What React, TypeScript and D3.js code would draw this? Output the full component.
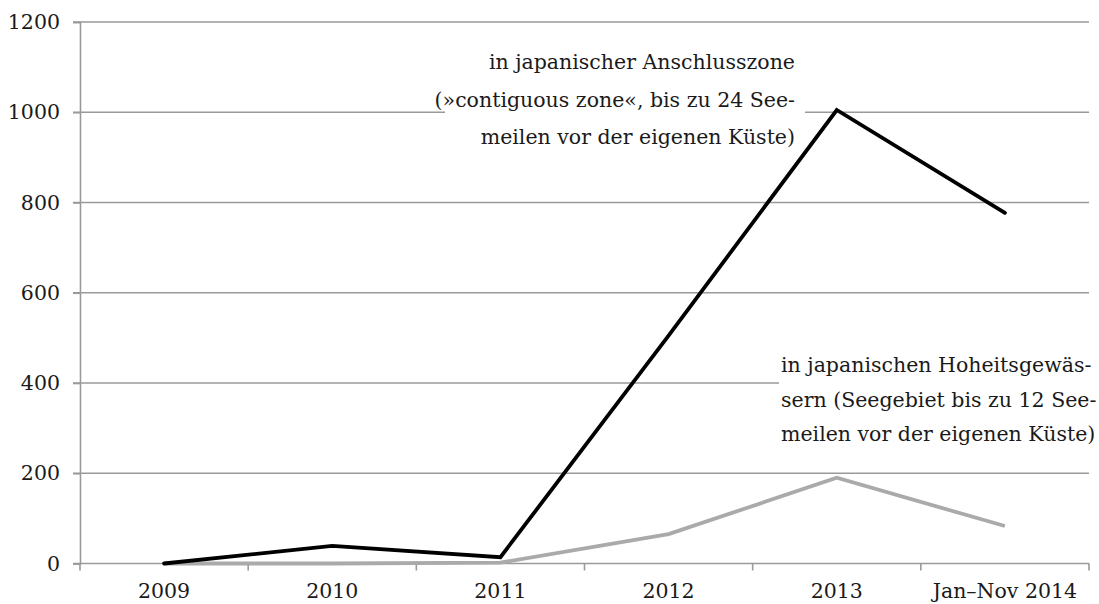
import * as d3 from 'd3';
import React, { useEffect, useRef } from 'react';

// Categories and series values
const categories = ['2009', '2010', '2011', '2012', '2013', 'Jan–Nov 2014'];
const contiguousZone = [0, 39, 14, 505, 1005, 777];
const territorialWaters = [0, 0, 2, 65, 190, 83];
const yTicks = [0, 200, 400, 600, 800, 1000, 1200];

const noteContiguous = [
    'in japanischer Anschlusszone',
    '(»contiguous zone«, bis zu 24 See-',
    'meilen vor der eigenen Küste)'
];
const noteTerritorial = [
    'in japanischen Hoheitsgewäs-',
    'sern (Seegebiet bis zu 12 See-',
    'meilen vor der eigenen Küste)'
];

const App = () => {
    const svgRef = useRef<SVGSVGElement>(null);

    useEffect(() => {
        const width = 1099;
        const height = 604;
        const margin = { top: 22, right: 10, bottom: 40.5, left: 80 };
        const font = '"DejaVu Serif", serif';
        const fontSize = '20.5px';
        const textColor = '#1a1a1a';

        const xScale = d3
            .scaleBand()
            .domain(categories)
            .range([margin.left, width - margin.right]);

        const yScale = d3
            .scaleLinear()
            .domain([0, 1200])
            .range([height - margin.bottom, margin.top]);

        const svg = d3.select(svgRef.current);
        svg.selectAll('*').remove();
        svg.attr('width', width).attr('height', height);

        const x0 = margin.left;
        const x1 = width - margin.right;
        const yBase = yScale(0);

        // Gridlines
        svg.append('g')
            .selectAll('line')
            .data(yTicks.filter(d => d > 0))
            .enter()
            .append('line')
            .attr('x1', x0 - 7)
            .attr('x2', x1)
            .attr('y1', d => yScale(d))
            .attr('y2', d => yScale(d))
            .attr('stroke', '#9a9a9a')
            .attr('stroke-width', 1.6);

        // Y axis
        const yAxis = svg.append('g')
            .attr('transform', `translate(${x0},0)`)
            .call(d3.axisLeft(yScale).tickValues(yTicks).tickFormat(d3.format('d')).tickSize(7).tickPadding(13));
        yAxis.select('.domain').attr('stroke', '#9a9a9a').attr('stroke-width', 1.6);
        yAxis.selectAll('.tick line').attr('stroke', '#9a9a9a').attr('stroke-width', 1.6);
        yAxis.selectAll('text')
            .style('font-family', font)
            .style('font-size', fontSize)
            .attr('fill', textColor);

        // X axis: ticks at band boundaries
        svg.append('line')
            .attr('x1', x0 - 7)
            .attr('x2', x1)
            .attr('y1', yBase)
            .attr('y2', yBase)
            .attr('stroke', '#9a9a9a')
            .attr('stroke-width', 1.6);

        const boundaries = categories.map(c => xScale(c) as number).concat([x1]);
        svg.append('g')
            .selectAll('line')
            .data(boundaries)
            .enter()
            .append('line')
            .attr('x1', d => d)
            .attr('x2', d => d)
            .attr('y1', yBase)
            .attr('y2', yBase + 7)
            .attr('stroke', '#9a9a9a')
            .attr('stroke-width', 1.6);

        svg.append('g')
            .selectAll('text')
            .data(categories)
            .enter()
            .append('text')
            .attr('x', d => (xScale(d) as number) + xScale.bandwidth() / 2)
            .attr('y', yBase + 34)
            .attr('text-anchor', 'middle')
            .style('font-family', font)
            .style('font-size', fontSize)
            .attr('fill', textColor)
            .text(d => d);

        const cx = (i: number) => (xScale(categories[i]) as number) + xScale.bandwidth() / 2;
        const line = d3.line<number>()
            .x((d, i) => cx(i))
            .y(d => yScale(d));

        // Lines
        svg.append('path')
            .datum(territorialWaters)
            .attr('fill', 'none')
            .attr('stroke', '#aaaaaa')
            .attr('stroke-width', 3.8)
            .attr('d', line);

        svg.append('path')
            .datum(contiguousZone)
            .attr('fill', 'none')
            .attr('stroke', '#000')
            .attr('stroke-width', 3.8)
            .attr('stroke-linecap', 'round')
            .attr('d', line);

        // Annotation boxes hide the gridlines behind the text
        svg.append('rect')
            .attr('x', 445).attr('y', yScale(1000) - 4)
            .attr('width', 360).attr('height', 8)
            .attr('fill', '#fff');
        svg.append('rect')
            .attr('x', 779).attr('y', yScale(400) - 4)
            .attr('width', 320).attr('height', 8)
            .attr('fill', '#fff');

        svg.append('text')
            .attr('text-anchor', 'end')
            .style('font-family', font)
            .style('font-size', fontSize)
            .attr('fill', textColor)
            .selectAll('tspan')
            .data(noteContiguous)
            .enter()
            .append('tspan')
            .attr('x', 795)
            .attr('y', (d, i) => 69 + i * 37.5)
            .text(d => d);

        svg.append('text')
            .style('font-family', font)
            .style('font-size', fontSize)
            .attr('fill', textColor)
            .selectAll('tspan')
            .data(noteTerritorial)
            .enter()
            .append('tspan')
            .attr('x', 781)
            .attr('y', (d, i) => 372 + i * 34.5)
            .text(d => d);
    }, []);

    return (
        <svg
            ref={svgRef}
            style={{ position: 'absolute', left: 0, top: 0, background: '#fff' }}
        ></svg>
    );
};

export default App;
